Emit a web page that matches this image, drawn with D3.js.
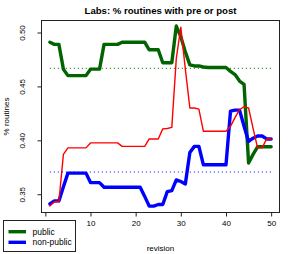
<!DOCTYPE html>
<html>
<head>
<meta charset="utf-8">
<script src="https://cdn.jsdelivr.net/npm/d3@7"></script>
<style>
    body { margin: 0; background: #fff; }
    text { font-family: "Liberation Sans", Arial, sans-serif; fill: #000; }
</style>
</head>
<body>
<div id="chart"></div>
<script>
// DATA
var revision = d3.range(1, 51);

var publicPct = [
    0.491, 0.489, 0.489, 0.466, 0.460, 0.460, 0.460, 0.460, 0.460, 0.466,
    0.466, 0.466, 0.489, 0.489, 0.489, 0.489, 0.491, 0.491, 0.491, 0.491,
    0.491, 0.491, 0.484, 0.484, 0.484, 0.472, 0.472, 0.472, 0.506, 0.496,
    0.482, 0.470, 0.469, 0.469, 0.468, 0.4675, 0.4675, 0.4675, 0.4675, 0.4675,
    0.464, 0.461, 0.455, 0.452, 0.379, 0.387, 0.394, 0.394, 0.394, 0.394
];

var nonPublicPct = [
    0.341, 0.3438, 0.3438, 0.357, 0.3696, 0.3696, 0.3696, 0.3696, 0.3696, 0.3608,
    0.3608, 0.3608, 0.3565, 0.3565, 0.3565, 0.3565, 0.3565, 0.3565, 0.3565, 0.3565,
    0.3565, 0.348, 0.339, 0.339, 0.3405, 0.3405, 0.3524, 0.3534, 0.3633, 0.3618,
    0.3596, 0.3888, 0.3944, 0.3944, 0.3773, 0.3773, 0.3773, 0.3773, 0.3773, 0.3773,
    0.427, 0.428, 0.428, 0.413, 0.399, 0.402, 0.404, 0.404, 0.4013, 0.4013
];

var allPct = [
    0.339, 0.343, 0.343, 0.387, 0.393, 0.393, 0.393, 0.393, 0.393, 0.3976,
    0.3976, 0.3976, 0.3976, 0.3976, 0.3976, 0.3976, 0.3944, 0.3944, 0.3944, 0.3944,
    0.3944, 0.3944, 0.4013, 0.4013, 0.4013, 0.4106, 0.411, 0.412, 0.476, 0.505,
    0.466, 0.430, 0.430, 0.429, 0.4084, 0.4084, 0.4084, 0.4084, 0.4084, 0.4084,
    0.413, 0.421, 0.4286, 0.431, 0.430, 0.411, 0.393, 0.393, 0.4013, 0.4013
];

// mean lines (dotted)
var publicMean = 0.4668;
var nonPublicMean = 0.3706;

var xTicks = [0, 10, 20, 30, 40, 50];
var yTicks = [0.35, 0.40, 0.45, 0.50];

var legendLabels = ['public', 'non-public'];
var legendColors = ['darkgreen', 'blue'];

// SVG AND D3 STUFF
var width = 294, height = 254;
var plot = { left: 41, right: 280, top: 20, bottom: 213 };

var svg = d3.select('#chart')
    .append('svg')
    .attr('width', width)
    .attr('height', height);

var xScale = d3.scaleLinear()
    .domain([-0.96, 51.96])
    .range([plot.left, plot.right]);

var yScale = d3.scaleLinear()
    .domain([0.3326, 0.5116])
    .range([plot.bottom, plot.top]);

var line = d3.line()
    .x(function (d) { return xScale(d[0]); })
    .y(function (d) { return yScale(d[1]); });

function pairs(values) {
    return revision.map(function (r, i) { return [r, values[i]]; });
}

// series lines
var series = [
    { values: publicPct, color: 'darkgreen', width: 3.4 },
    { values: nonPublicPct, color: 'blue', width: 3.4 },
    { values: allPct, color: 'red', width: 1.4 }
];

svg.append('g')
    .selectAll('path')
    .data(series)
    .enter()
    .append('path')
    .attr('d', function (d) { return line(pairs(d.values)); })
    .attr('fill', 'none')
    .attr('stroke', function (d) { return d.color; })
    .attr('stroke-width', function (d) { return d.width; })
    .attr('stroke-linejoin', 'round')
    .attr('stroke-linecap', 'round');

// dotted means
svg.append('g')
    .selectAll('line')
    .data([[publicMean, 'darkgreen'], [nonPublicMean, 'blue']])
    .enter()
    .append('line')
    .attr('x1', xScale(revision[0]))
    .attr('x2', xScale(revision[revision.length - 1]))
    .attr('y1', function (d) { return yScale(d[0]); })
    .attr('y2', function (d) { return yScale(d[0]); })
    .attr('stroke', function (d) { return d[1]; })
    .attr('stroke-width', 1)
    .attr('stroke-dasharray', '1,3');

// box
svg.append('rect')
    .attr('x', plot.left + 0.5)
    .attr('y', plot.top + 0.5)
    .attr('width', plot.right - plot.left - 1)
    .attr('height', plot.bottom - plot.top - 1)
    .attr('fill', 'none')
    .attr('stroke', '#222')
    .attr('stroke-width', 1);

// axes
var xAxis = svg.append('g')
    .attr('transform', 'translate(0,' + (plot.bottom - 0.5) + ')')
    .call(d3.axisBottom(xScale).tickValues(xTicks).tickSize(4).tickPadding(4)
        .tickFormat(d3.format('d')));

var yAxis = svg.append('g')
    .attr('transform', 'translate(' + (plot.left + 0.5) + ',0)')
    .call(d3.axisLeft(yScale).tickValues(yTicks).tickSize(4)
        .tickFormat(d3.format('.2f')));

[xAxis, yAxis].forEach(function (a) {
    a.select('.domain').attr('stroke', '#222');
    a.selectAll('.tick line').attr('stroke', '#222');
    a.selectAll('text').style('font-size', '8px').style('font-family', '"Liberation Sans", Arial, sans-serif');
});
xAxis.select('.domain').attr('d', 'M' + xScale(0) + ',0H' + xScale(50));
yAxis.select('.domain').attr('d', 'M0,' + yScale(0.35) + 'V' + yScale(0.50));

// rotated y tick labels, like R's las = 0
yAxis.selectAll('.tick text')
    .attr('x', 0)
    .attr('dy', 0)
    .attr('text-anchor', 'middle')
    .attr('transform', 'translate(-17,0) rotate(-90)');

// title and axis labels
svg.append('text')
    .attr('x', (plot.left + plot.right) / 2)
    .attr('y', 13.5)
    .attr('text-anchor', 'middle')
    .style('font-size', '9.6px')
    .style('font-weight', 'bold')
    .text('Labs: % routines with pre or post');

svg.append('text')
    .attr('x', (plot.left + plot.right) / 2)
    .attr('y', 251)
    .attr('text-anchor', 'middle')
    .style('font-size', '8px')
    .text('revision');

svg.append('text')
    .attr('transform', 'translate(9,' + (plot.top + plot.bottom) / 2 + ') rotate(-90)')
    .attr('text-anchor', 'middle')
    .style('font-size', '8px')
    .text('% routines');

// legend (drawn over the x axis corner)
var legend = svg.append('g');

legend.append('rect')
    .attr('x', 3.5)
    .attr('y', 220.5)
    .attr('width', 72)
    .attr('height', 31)
    .attr('fill', '#fff')
    .attr('stroke', '#222')
    .attr('stroke-width', 1);

var items = legend.selectAll('g.item')
    .data(legendLabels)
    .enter()
    .append('g')
    .attr('class', 'item')
    .attr('transform', function (d, i) { return 'translate(0,' + (231.7 + i * 10.6) + ')'; });

items.append('line')
    .attr('x1', 8.5)
    .attr('x2', 26)
    .attr('stroke', function (d, i) { return legendColors[i]; })
    .attr('stroke-width', 3.4);

items.append('text')
    .attr('x', 32.5)
    .attr('y', 3)
    .style('font-size', '8.5px')
    .text(function (d) { return d; });
</script>
</body>
</html>
